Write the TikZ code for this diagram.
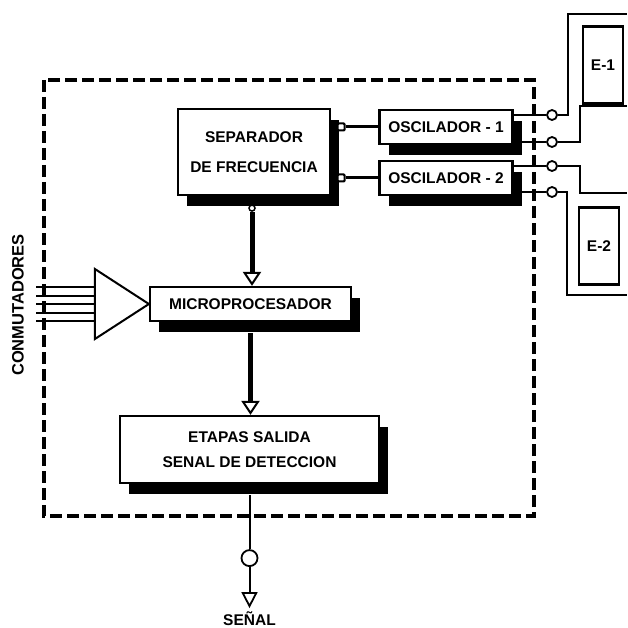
\documentclass[tikz,border=0pt]{standalone}
\usepackage{fontspec}
\setmainfont{Liberation Sans}
\usetikzlibrary{arrows.meta,positioning,shadows,calc}

\begin{document}
\begin{tikzpicture}[x=1pt,y=-1pt,font=\fontsize{15.5}{19}\selectfont\bfseries,
  blk/.style={draw,line width=2.2pt,fill=white,align=center,inner sep=2pt,
    drop shadow={shadow xshift=9pt,shadow yshift=-11pt,opacity=1,fill=black}},
  sensor/.style={draw,line width=2.2pt,fill=white,minimum width=40pt,minimum height=77pt},
  term/.style={draw,line width=2pt,fill=white,rounded corners=1pt,inner sep=0pt,minimum size=7pt},
  jack/.style={circle,draw,line width=1.8pt,fill=white,inner sep=0pt,minimum size=10pt},
  bus/.style={line width=5pt,-{Triangle[open,fill=white,length=14pt,width=18pt,line width=2pt]}},
  wire/.style={line width=2pt}]
  \useasboundingbox (0,0) rectangle (627,628);

  % equipo (limite)
  \draw[line width=3.5pt,dash pattern=on 12pt off 5pt] (44,80) rectangle (534,516);

  % bloques
  \node[blk,minimum width=152pt,minimum height=86pt] (sep) at (254,152)
    {SEPARADOR\\[11pt]DE FRECUENCIA};
  \node[blk,minimum width=133pt,minimum height=34pt] (osc1) at (446,127) {OSCILADOR - 1};
  \node[blk,minimum width=133pt,minimum height=34pt] (osc2) at (446,178) {OSCILADOR - 2};
  \node[blk,minimum width=201pt,minimum height=34pt] (micro) at (250.5,304) {MICROPROCESADOR};
  \node[blk,minimum width=259pt,minimum height=67pt] (etapas) at (249.5,449.5)
    {ETAPAS SALIDA\\[6pt]SENAL DE DETECCION};

  % emisores
  \node[sensor] (e1) at (603,65) {E-1};
  \node[sensor] (e2) at (599,246) {E-2};

  % separador -> osciladores
  \node[term] (t1) at ([xshift=10pt]sep.east |- osc1) {};
  \node[term] (t2) at ([xshift=10pt]sep.east |- osc2) {};
  \draw[line width=3pt] (t1) -- (osc1);
  \draw[line width=3pt] (t2) -- (osc2);

  % bornes de salida
  \node[jack] (c1) at (552,115) {};
  \node[jack] (c2) at (552,142) {};
  \node[jack] (c3) at (552,166) {};
  \node[jack] (c4) at (552,192) {};
  \draw[wire] (c1 -| osc1.east) -- (c1);
  \draw[wire] (c2 -| osc1.east) -- (c2);
  \draw[wire] (c3 -| osc2.east) -- (c3);
  \draw[wire] (c4 -| osc2.east) -- (c4);
  \coordinate (w1) at (627,14);
  \coordinate (w2) at (627,106);
  \coordinate (w3) at (627,193);
  \coordinate (w4) at (627,295);
  \draw[wire] (c1) -- ++(16,0) |- (w1);
  \draw[wire] (c2) -- ++(28,0) |- (w2);
  \draw[wire] (c3) -- ++(28,0) |- (w3);
  \draw[wire] (c4) -- ++(15,0) |- (w4);

  % flujo vertical
  \node[jack,minimum size=6pt,line width=1.5pt] (sd) at ([xshift=-2pt,yshift=-12pt]sep.south) {};
  \draw[bus] (sd.south) -- (sd |- micro.north);
  \draw[bus] ([yshift=-11pt]micro.south) -- (micro.south |- etapas.north);

  % entrada conmutadores
  \draw[wire,fill=white] (micro.west) -- ++(-54,-35) -- ++(0,70) -- cycle;
  \foreach \dy in {-17,-8.5,0,8.5,17}
    \draw[wire] ([xshift=-54pt,yshift=\dy pt]micro.west) -- ++(-59,0);
  \node[rotate=90,font=\fontsize{16.5}{19}\selectfont\bfseries] (conm) at (18,305) {CONMUTADORES};

  % salida
  \node[jack,minimum size=16pt] (out) at ([yshift=-74pt]etapas.south) {};
  \coordinate (sig) at ([yshift=-50pt]out.center);
  \draw[wire] ([yshift=-11pt]etapas.south) -- (out);
  \draw[wire,-{Triangle[open,fill=white,length=16pt,width=16pt,line width=1.8pt]}] (out) -- (sig);
  \node[anchor=south,inner sep=0pt,yshift=2.5pt] (senal) at (sig |- 0,628) {SEÑAL};
\end{tikzpicture}
\end{document}
